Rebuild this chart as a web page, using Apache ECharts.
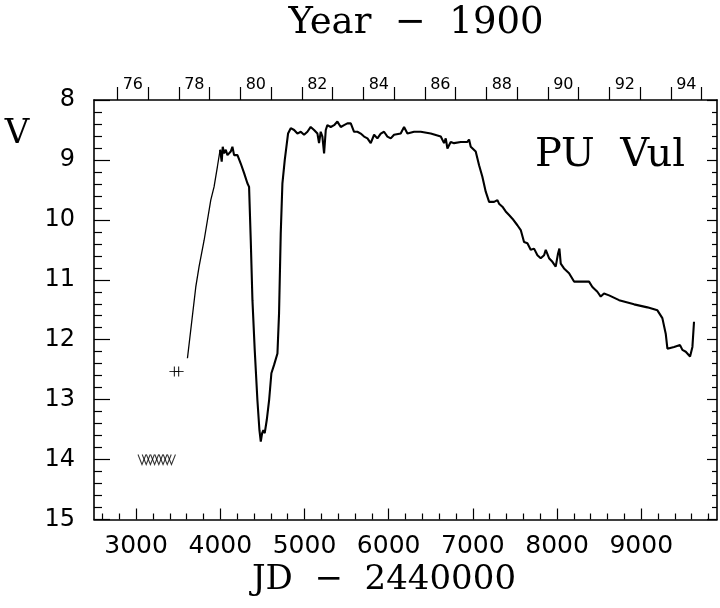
<!DOCTYPE html>
<html>
<head>
<meta charset="utf-8">
<script src="https://cdn.jsdelivr.net/npm/echarts@6/dist/echarts.min.js"></script>
<style>html,body{margin:0;padding:0;background:#fff}#c{width:720px;height:608px}</style>
</head>
<body>
<div id="c"></div>
<script>
// ---- data (JD - 2440000, V magnitude) ----
const riseJD = [3610, 3709, 3748, 3808, 3887, 3926, 3966, 3998];
const riseV  = [12.31, 11.12, 10.78, 10.34, 9.67, 9.45, 9.11, 8.83];

const mainJD = [3998,4006,4017,4029,4045,4065,4085,4124,4144,4164,4204,4243,4283,4322,4342,4362,4382,4409,4441,4465,4481,4497,4512,4528,4552,4580,4607,4639,4679,4698,4718,4738,4766,4805,4837,4877,4916,4956,4995,5035,5074,5114,5154,5173,5193,5213,5233,5253,5272,5312,5352,5391,5431,5470,5510,5550,5589,5629,5668,5708,5748,5787,5827,5866,5906,5945,5985,6025,6064,6143,6183,6223,6302,6381,6500,6619,6658,6678,6698,6737,6777,6856,6935,6955,6975,7034,7074,7113,7153,7193,7252,7292,7311,7351,7390,7430,7470,7529,7569,7608,7648,7687,7727,7767,7806,7846,7866,7905,7945,7984,8012,8028,8044,8083,8143,8202,8281,8380,8420,8479,8519,8558,8618,8737,8915,9073,9192,9251,9291,9311,9390,9461,9489,9529,9580,9608,9627];
const mainV  = [8.83,8.81,9.03,8.78,8.89,8.83,8.92,8.86,8.78,8.92,8.92,9.06,9.22,9.39,9.45,10.34,11.34,12.17,13.01,13.51,13.70,13.56,13.51,13.56,13.34,13.01,12.56,12.42,12.23,11.56,10.23,9.39,9.00,8.56,8.47,8.50,8.56,8.53,8.58,8.53,8.45,8.50,8.56,8.72,8.53,8.61,8.89,8.50,8.42,8.45,8.42,8.36,8.45,8.42,8.39,8.39,8.53,8.53,8.56,8.61,8.64,8.72,8.58,8.64,8.56,8.53,8.61,8.64,8.58,8.56,8.45,8.56,8.53,8.53,8.56,8.61,8.72,8.64,8.81,8.70,8.72,8.70,8.70,8.66,8.78,8.86,9.09,9.28,9.53,9.70,9.70,9.67,9.73,9.78,9.86,9.92,9.98,10.09,10.17,10.37,10.39,10.50,10.48,10.59,10.64,10.59,10.50,10.64,10.70,10.78,10.56,10.48,10.73,10.81,10.89,11.03,11.03,11.03,11.12,11.20,11.28,11.23,11.26,11.34,11.41,11.46,11.51,11.64,11.90,12.15,12.12,12.09,12.17,12.20,12.28,12.12,11.70];

const crossJD = [3455, 3505];
const crossV  = [12.53, 12.53];

const limitJD = [3070, 3120, 3170, 3220, 3270, 3320, 3370, 3420];
const limitV  = [14.0, 14.0, 14.0, 14.0, 14.0, 14.0, 14.0, 14.0];

const jdMajor = [3000, 4000, 5000, 6000, 7000, 8000, 9000];
const jdMinor = [2600,2800,3200,3400,3600,3800,4200,4400,4600,4800,5200,5400,5600,5800,6200,6400,6600,6800,7200,7400,7600,7800,8200,8400,8600,8800,9200,9400,9600,9800];
const yearTicks = [1976,1977,1978,1979,1980,1981,1982,1983,1984,1985,1986,1987,1988,1989,1990,1991,1992,1993,1994,1995];
const yearLabels = [1976.5,1978.5,1980.5,1982.5,1984.5,1986.5,1988.5,1990.5,1992.5,1994.5];

// ---- scales ----
const JD_MIN = 2500, JD_MAX = 9900;
const JD_1976 = 2778.5; // JD-2440000 of 1976 Jan 1.0
const toYear = jd => 1976 + (jd - JD_1976) / 365.25;

const pairs = (xs, ys) => xs.map((x, i) => [x, ys[i]]);

const chart = echarts.init(document.getElementById('c'), null, {renderer: 'canvas'});
const blk = '#000';
const yBase = {
  type: 'value', inverse: true, min: 8, max: 15, interval: 1,
  splitLine: {show: false},
  axisLine: {show: true, onZero: false, lineStyle: {color: blk, width: 1.6}}
};
const option = {
  animation: false,
  backgroundColor: '#fff',
  grid: {left: 94, right: 3, top: 100, bottom: 88.5, containLabel: false},
  xAxis: [
    {
      type: 'value', position: 'bottom', min: JD_MIN, max: JD_MAX,
      splitLine: {show: false},
      axisLine: {show: true, onZero: false, lineStyle: {color: blk, width: 1.6}},
      axisTick: {show: true, inside: true, length: 11, customValues: jdMajor, lineStyle: {color: blk, width: 1.2}},
      axisLabel: {show: true, customValues: jdMajor, color: blk, fontFamily: 'DejaVu Sans', fontSize: 25, margin: 14,
        formatter: v => String(v)}
    },
    {
      type: 'value', position: 'bottom', min: JD_MIN, max: JD_MAX,
      splitLine: {show: false},
      axisLine: {show: false},
      axisTick: {show: true, inside: true, length: 6, customValues: jdMinor, lineStyle: {color: blk, width: 1.2}},
      axisLabel: {show: false}
    },
    {
      type: 'value', position: 'top', min: toYear(JD_MIN), max: toYear(JD_MAX),
      splitLine: {show: false},
      axisLine: {show: true, onZero: false, lineStyle: {color: blk, width: 1.6}},
      axisTick: {show: true, inside: false, length: 13, customValues: yearTicks, lineStyle: {color: blk, width: 1.2}},
      axisLabel: {show: true, customValues: yearLabels, color: blk, fontFamily: 'DejaVu Sans', fontSize: 16, margin: 7,
        formatter: v => String(Math.floor(v) - 1900)}
    }
  ],
  yAxis: [
    Object.assign({}, yBase, {
      position: 'left',
      axisTick: {show: true, inside: true, length: 16, lineStyle: {color: blk, width: 1.2}},
      minorTick: {show: true, splitNumber: 5, length: 8, lineStyle: {color: blk, width: 1.2}},
      axisLabel: {show: true, color: blk, fontFamily: 'DejaVu Sans', fontSize: 24, margin: 19}
    }),
    Object.assign({}, yBase, {
      position: 'right',
      axisTick: {show: true, inside: true, length: 10, lineStyle: {color: blk, width: 1.2}},
      minorTick: {show: true, splitNumber: 5, length: 5, lineStyle: {color: blk, width: 1.2}},
      axisLabel: {show: false}
    })
  ],
  series: [
    {
      type: 'line', xAxisIndex: 0, yAxisIndex: 0, data: pairs(riseJD, riseV),
      showSymbol: false, symbol: 'none', lineStyle: {color: blk, width: 1.3}, silent: true
    },
    {
      type: 'line', xAxisIndex: 0, yAxisIndex: 0, data: pairs(mainJD, mainV),
      showSymbol: false, symbol: 'none', lineStyle: {color: blk, width: 2.1}, silent: true
    },
    {
      type: 'scatter', xAxisIndex: 0, yAxisIndex: 0, data: pairs(crossJD, crossV),
      symbol: 'path://M0,5L10,5M5,0L5,10', symbolSize: 10,
      itemStyle: {color: 'transparent', borderColor: blk, borderWidth: 1.2}, silent: true
    },
    {
      type: 'scatter', xAxisIndex: 0, yAxisIndex: 0, data: pairs(limitJD, limitV),
      symbol: 'path://M0,0L5,10L10,0', symbolSize: [8, 10],
      itemStyle: {color: 'transparent', borderColor: blk, borderWidth: 1.2}, silent: true
    }
  ],
  graphic: [
    {type: 'text', style: {text: 'Year  \u2212  1900', font: '37px "DejaVu Serif"', fill: blk, x: 416, y: 23, align: 'center', verticalAlign: 'middle'}},
    {type: 'text', style: {text: 'JD  \u2212  2440000', font: '34px "DejaVu Serif"', fill: blk, x: 384, y: 580, align: 'center', verticalAlign: 'middle'}},
    {type: 'text', style: {text: 'PU  Vul', font: '40px "DejaVu Serif"', fill: blk, x: 610, y: 156, align: 'center', verticalAlign: 'middle'}},
    {type: 'text', style: {text: 'V', font: '34px "DejaVu Serif"', fill: blk, x: 17, y: 134, align: 'center', verticalAlign: 'middle'}}
  ]
};
chart.setOption(option);
</script>
</body>
</html>
